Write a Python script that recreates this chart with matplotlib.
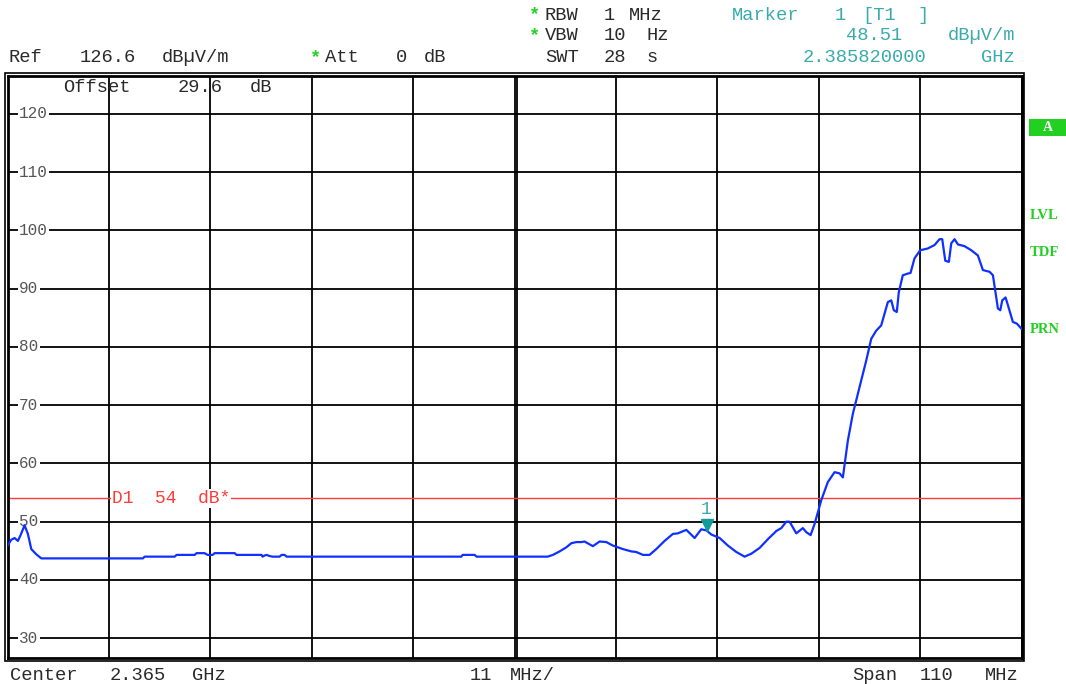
import matplotlib
matplotlib.use("Agg")
import matplotlib.pyplot as plt
from matplotlib.patches import Rectangle
from matplotlib.transforms import ScaledTranslation, blended_transform_factory

# ---------------------------
# 1. Values
# ---------------------------
START_MHZ = 2310.0
SPAN_MHZ = 110.0
REF_LEVEL = 126.6
RANGE_DB = 100.0
DISPLAY_LINE_DB = 54.0
MARKER_MHZ = 2385.82
MARKER_DB = 48.51
Y_TICKS = [30, 40, 50, 60, 70, 80, 90, 100, 110, 120]

# trace: offset from start frequency (MHz) and level (dBuV/m)
freq_offset = [
    0.00, 0.40, 0.76, 1.12, 1.49, 1.84, 2.20, 2.57, 3.11, 3.66,
    14.68, 14.86, 18.12, 18.33, 20.29, 20.50, 21.37, 21.70, 22.24, 22.46,
    24.63, 24.84, 27.55, 27.66, 27.88, 28.10, 28.42, 28.75, 29.51, 29.72,
    30.05, 30.27, 49.22, 49.36, 50.66, 50.88, 58.58, 59.16, 59.88, 60.61,
    61.15, 61.69, 62.23, 62.59, 63.49, 64.22, 64.95, 65.66, 66.75, 67.66,
    68.20, 68.92, 69.64, 70.37, 71.27, 72.17, 72.71, 73.63, 74.53, 75.25,
    75.82, 76.34, 77.24, 78.14, 79.05, 79.95, 80.68, 81.58, 82.48, 83.39,
    83.93, 84.47, 84.83, 85.56, 86.27, 86.64, 87.11, 87.54, 88.27, 88.98,
    89.71, 90.25, 90.61, 91.15, 91.69, 92.42, 93.15, 93.69, 94.23, 94.77,
    95.49, 95.86, 96.14, 96.46, 96.68, 97.11, 97.66, 97.95, 98.38, 99.00,
    99.82, 100.56, 101.10, 101.39, 101.72, 102.11, 102.37, 102.73, 103.09, 103.81,
    104.54, 105.26, 105.80, 106.53, 106.89, 107.43, 107.69, 107.90, 108.26, 108.51,
    109.05, 109.49, 110.00,
]
level = [
    45.9, 46.9, 47.2, 46.7, 48.0, 49.4, 47.9, 45.3, 44.4, 43.7,
    43.7, 44.0, 44.0, 44.3, 44.3, 44.6, 44.6, 44.3, 44.3, 44.6,
    44.6, 44.3, 44.3, 44.0, 44.2, 44.3, 44.1, 44.0, 44.0, 44.3,
    44.3, 44.0, 44.0, 44.3, 44.3, 44.0, 44.0, 44.3, 44.9, 45.6,
    46.3, 46.5, 46.5, 46.6, 45.8, 46.6, 46.5, 45.9, 45.3, 44.9,
    44.8, 44.3, 44.3, 45.3, 46.7, 47.9, 48.0, 48.6, 47.2, 48.7,
    48.5, 47.8, 47.2, 45.9, 44.8, 44.0, 44.5, 45.5, 47.0, 48.4,
    48.9, 50.0, 50.0, 48.0, 48.9, 48.2, 47.7, 49.6, 53.7, 56.8,
    58.5, 58.3, 57.6, 63.9, 68.5, 73.1, 77.7, 81.4, 82.8, 83.7,
    87.7, 88.0, 86.3, 86.0, 89.4, 92.3, 92.6, 92.7, 95.2, 96.6,
    96.9, 97.5, 98.5, 98.5, 94.8, 94.6, 97.8, 98.5, 97.6, 97.3,
    96.6, 95.7, 93.2, 92.9, 92.3, 86.6, 86.3, 88.0, 88.5, 87.2,
    84.3, 84.0, 83.1,
]
freq = [START_MHZ + f for f in freq_offset]

# ---------------------------
# 2. Figure / axes
# ---------------------------
W, H = 1066, 684
MONO = "Liberation Mono"
TXT = "#2a2a2a"
TEAL = "#3aabab"
GREEN = "#22d022"
RED = "#ff3b3b"
BLUE = "#1030ff"
FS = 13.5

fig = plt.figure(figsize=(W / 100, H / 100), dpi=100)
ax_l, ax_r, ax_t, ax_b = 7.6, 1021.6, 75.5, 658.0
ax = fig.add_axes([ax_l / W, 1 - ax_b / H, (ax_r - ax_l) / W, (ax_b - ax_t) / H])

ax.set_xlim(START_MHZ, START_MHZ + SPAN_MHZ)
ax.set_ylim(REF_LEVEL - RANGE_DB, REF_LEVEL)
ax.set_xticks([START_MHZ + i * SPAN_MHZ / 10 for i in range(11)])
ax.set_yticks(Y_TICKS)
ax.tick_params(length=0, labelbottom=False, labelleft=False)
ax.grid(True, color="black", linewidth=1.3)
ax.set_axisbelow(True)
for s in ax.spines.values():
    s.set_linewidth(2.0)
    s.set_color("black")

# double line in the middle of the screen
ax.axvline(START_MHZ + SPAN_MHZ / 2 + 0.27, color="black", linewidth=1.3, zorder=0.5)

# outer frame line
fig.patches.append(Rectangle(((ax_l - 2.5) / W, 1 - (ax_b + 3) / H),
                             (ax_r - ax_l + 5) / W, (ax_b - ax_t + 5.5) / H,
                             transform=fig.transFigure, fill=False,
                             edgecolor="black", linewidth=1.2))

# y labels inside the grid
lab_tr = blended_transform_factory(ax.transAxes, ax.transData)
for v in Y_TICKS:
    ax.text((19 - ax_l) / (ax_r - ax_l), v, str(v), transform=lab_tr,
            family=MONO, fontsize=11.5, color="#555555", va="center", ha="left",
            bbox=dict(facecolor="white", edgecolor="none", pad=1.0), zorder=3)

# display line D1
ax.axhline(DISPLAY_LINE_DB, color=RED, linewidth=1.0, zorder=2)
ax.text(START_MHZ + (112 - ax_l) * SPAN_MHZ / 1014, DISPLAY_LINE_DB, "D1  54  dB*",
        family=MONO, fontsize=13, color=RED, va="center", ha="left",
        bbox=dict(facecolor="white", edgecolor="none", pad=0.5), zorder=3)

# trace
ax.plot(freq, level, color=BLUE, linewidth=1.6, zorder=4)

# marker 1
shift = ScaledTranslation(0, 0.055, fig.dpi_scale_trans)
ax.plot(MARKER_MHZ, MARKER_DB, marker="v", ms=9, color="#139a9a",
        transform=ax.transData + shift, zorder=5, clip_on=False)
ax.text(MARKER_MHZ, MARKER_DB, "1", family=MONO, fontsize=13, color=TEAL,
        ha="center", va="bottom", transform=ax.transData + ScaledTranslation(0, 0.12, fig.dpi_scale_trans))


# ---------------------------
# 3. Screen annotations (pixel positions)
# ---------------------------
def put(x, y, s, color=TXT, size=FS, ha="left", **kw):
    fig.text(x / W, 1 - y / H, s, color=color, fontsize=size, family=MONO,
             va="center", ha=ha, **kw)


# row 1
put(529, 15, "*", GREEN, weight="bold")
put(545, 15, "RBW")
put(604, 15, "1")
put(629, 15, "MHz")
put(732, 15, "Marker", TEAL)
put(835, 15, "1", TEAL)
put(862, 15, "[T1", TEAL)
put(917, 15, "]", TEAL)
# row 2
put(529, 36, "*", GREEN, weight="bold")
put(545, 36, "VBW")
put(604, 36, "10")
put(647, 36, "Hz")
put(846, 36, "48.51", TEAL)
put(1015, 36, "dBµV/m", TEAL, ha="right")
# row 3
put(8, 58, "Ref")
put(80, 58, "126.6")
put(162, 58, "dBµV/m")
put(310, 58, "*", GREEN, weight="bold")
put(325, 58, "Att")
put(396, 58, "0")
put(424, 58, "dB")
put(545, 58, "SWT")
put(604, 58, "28")
put(647, 58, "s")
put(803, 58, "2.385820000", TEAL)
put(1015, 58, "GHz", TEAL, ha="right")
# offset line inside screen
put(63, 88, "Offset")
put(178, 88, "29.6")
put(250, 88, "dB")
# bottom row
put(10, 675, "Center")
put(110, 675, "2.365")
put(192, 675, "GHz")
put(470, 675, "11")
put(510, 675, "MHz/")
put(852, 675, "Span")
put(920, 675, "110")
put(1019, 675, "MHz", ha="right")

# right-hand status labels
fig.patches.append(Rectangle((1029 / W, 1 - 136 / H), 37 / W, 17 / H,
                             transform=fig.transFigure, facecolor=GREEN,
                             edgecolor="none"))
fig.text(1047.5 / W, 1 - 127.5 / H, "A", color="white", fontsize=10,
         family="Liberation Serif", weight="bold", ha="center", va="center")
for yy, s in [(215, "LVL"), (252, "TDF"), (330, "PRN")]:
    fig.text(1030 / W, 1 - yy / H, s, color=GREEN, fontsize=10.5,
             family="Liberation Serif", weight="bold", ha="left", va="center")

fig.savefig("out.png", dpi=100)
